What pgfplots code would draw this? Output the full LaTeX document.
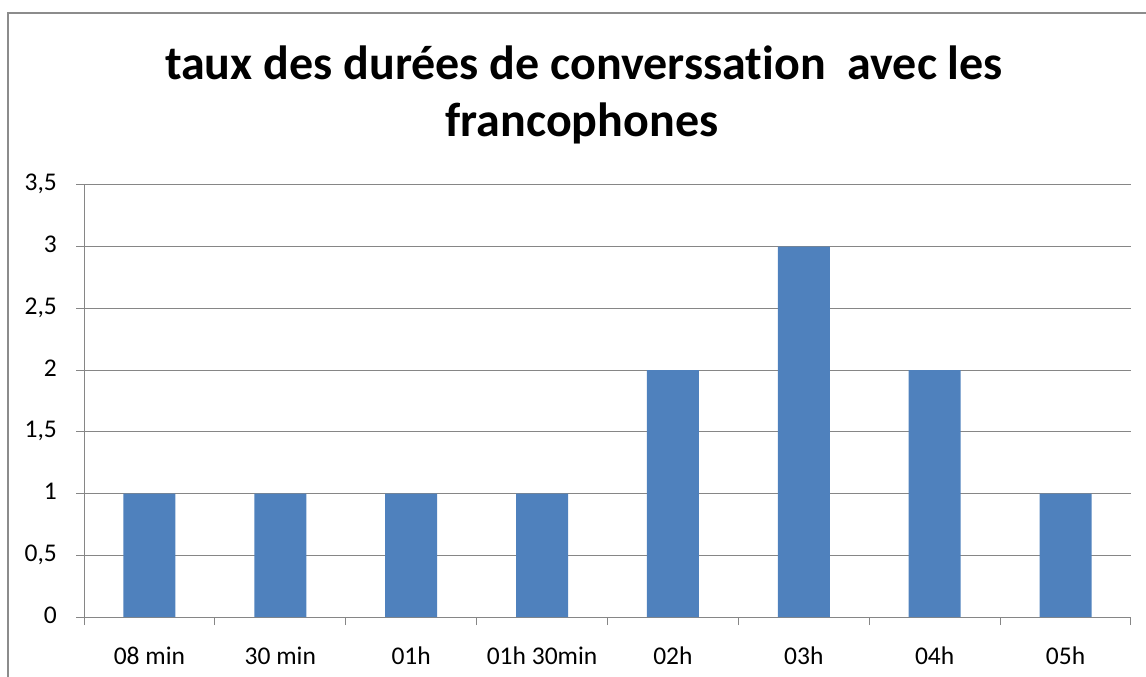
\documentclass[border=0pt]{standalone}
\usepackage{pgfplots}
\pgfplotsset{compat=1.18}
\usepackage{fontspec}
\setmainfont{Carlito}[RawFeature=-liga]
\definecolor{barblue}{HTML}{4F81BD}
\definecolor{axgray}{HTML}{868686}
\definecolor{bordergray}{HTML}{8C8C8C}
\begin{document}
\begin{tikzpicture}
\path[use as bounding box] (0,0) rectangle (1146bp,677bp);
\draw[bordergray, line width=1.5bp] (8bp,0bp) -- (8bp,664bp) -- (1146bp,664bp);
\node[anchor=base, font=\fontsize{48bp}{56bp}\selectfont\bfseries, inner sep=0pt] at (584bp,597.7bp) {taux des durées de converssation\ \ avec les};
\node[anchor=base, font=\fontsize{48bp}{56bp}\selectfont\bfseries, inner sep=0pt] at (582bp,540.3bp) {francophones};
\begin{axis}[
  at={(84bp,60bp)}, anchor=south west,
  scale only axis, width=1047bp, height=432bp,
  xmin=0, xmax=8, ymin=0, ymax=3.5,
  axis lines*=left,
  axis line style={axgray, line width=1bp},
  ytick={0,0.5,...,3.5},
  yticklabels={0,{0,5},1,{1,5},2,{2,5},3,{3,5}},
  xtick={0.5,1.5,...,7.5},
  xticklabels={08 min,30 min,01h,01h 30min,02h,03h,04h,05h},
  minor xtick={0,1,...,8},
  major x tick style={draw=none},
  minor x tick style={axgray, line width=1bp},
  y tick style={axgray, line width=1bp},
  tick align=outside,
  major tick length=8bp, minor tick length=8bp,
  ymajorgrids,
  grid style={axgray, line width=1bp},
  ticklabel style={font=\fontsize{25.5bp}{30bp}\selectfont},
  xticklabel style={anchor=base, yshift=-39bp, inner sep=0pt},
  yticklabel style={anchor=east, inner sep=0pt, xshift=-19bp},
  typeset ticklabels with strut,
  clip=false,
]
\addplot[ybar, bar width=52bp, fill=barblue, draw=none] coordinates {
(0.5,1) (1.5,1) (2.5,1) (3.5,1) (4.5,2) (5.5,3) (6.5,2) (7.5,1)};
\end{axis}
\end{tikzpicture}
\end{document}
